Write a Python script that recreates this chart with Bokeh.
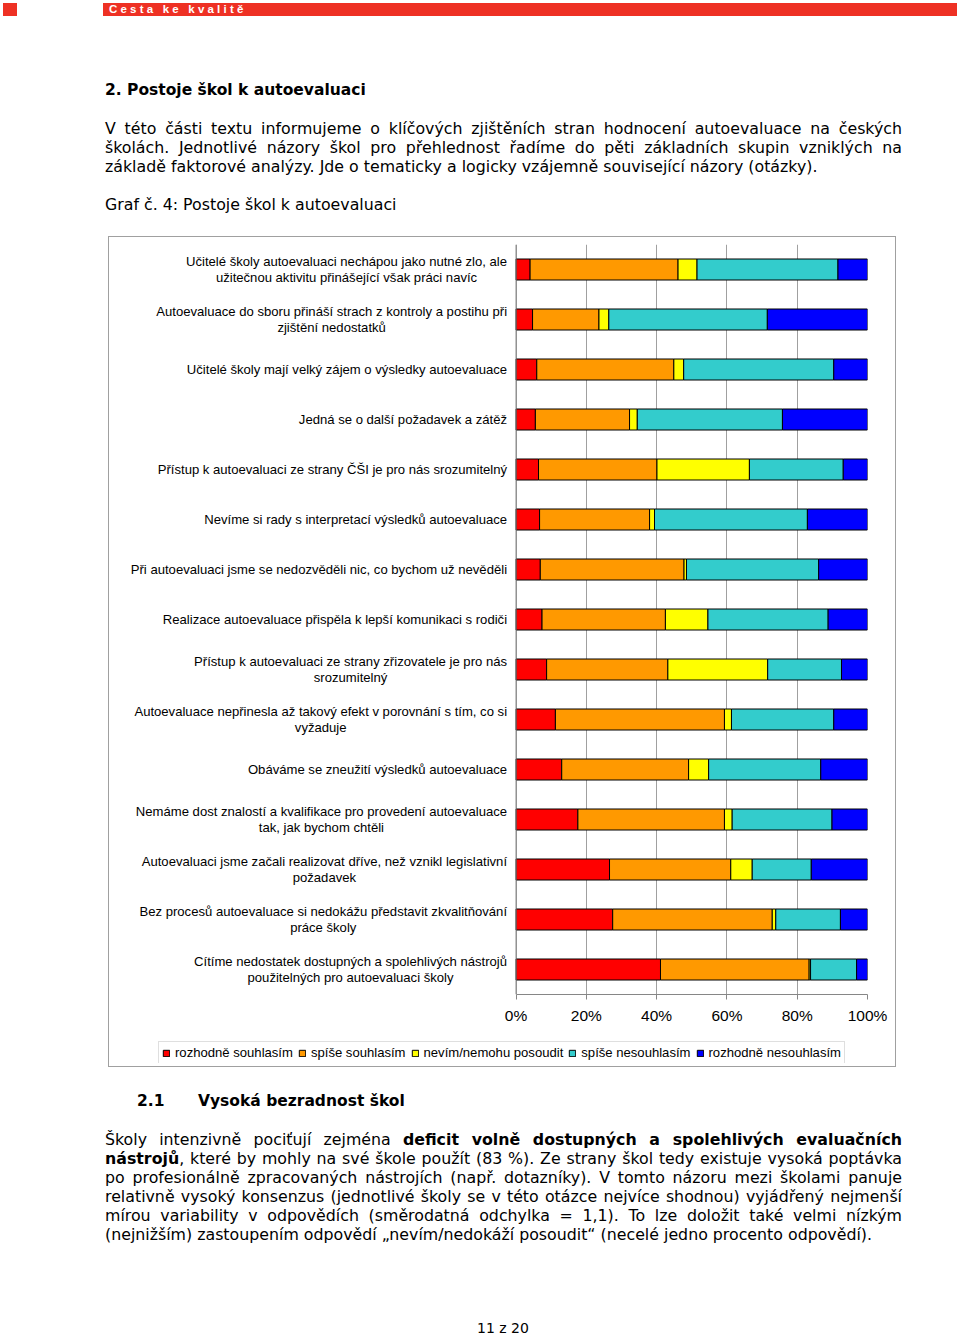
from bokeh.plotting import figure
from bokeh.models import (ColumnDataSource, FactorRange, Range1d, FixedTicker,
                          Legend, LegendItem, Div, Spacer, Span)
from bokeh.core.properties import value
from bokeh.layouts import column, row
from bokeh.embed import file_html
from bokeh.resources import INLINE

# ---------------- data ----------------
statements = [
    "Učitelé školy autoevaluaci nechápou jako nutné zlo, ale\nužitečnou aktivitu přinášející však práci navíc",
    "Autoevaluace do sboru přináší strach z kontroly a postihu při\nzjištění nedostatků",
    "Učitelé školy mají velký zájem o výsledky autoevaluace",
    "Jedná se o další požadavek a zátěž",
    "Přístup k autoevaluaci ze strany ČŠI je pro nás srozumitelný",
    "Nevíme si rady s interpretací výsledků autoevaluace",
    "Při autoevaluaci jsme se nedozvěděli nic, co bychom už nevěděli",
    "Realizace autoevaluace přispěla k lepší komunikaci s rodiči",
    "Přístup k autoevaluaci ze strany zřizovatele je pro nás\nsrozumitelný",
    "Autoevaluace nepřinesla až takový efekt v porovnání s tím, co si\nvyžaduje",
    "Obáváme se zneužití výsledků autoevaluace",
    "Nemáme dost znalostí a kvalifikace pro provedení autoevaluace\ntak, jak bychom chtěli",
    "Autoevaluaci jsme začali realizovat dříve, než vznikl legislativní\npožadavek",
    "Bez procesů autoevaluace si nedokážu představit zkvalitňování\npráce školy",
    "Cítíme nedostatek dostupných a spolehlivých nástrojů\npoužitelných pro autoevaluaci školy",
]

rozhodne_souhlasim   = [4.0, 4.7, 5.9, 5.5, 6.4, 6.7, 6.9, 7.4, 8.7, 11.2, 13.0, 17.6, 26.6, 27.5, 41.1]
spise_souhlasim      = [42.1, 18.9, 39.0, 26.8, 33.7, 31.3, 40.9, 35.1, 34.5, 48.1, 36.1, 41.7, 34.5, 45.4, 42.3]
nevim                = [5.4, 2.8, 2.8, 2.2, 26.3, 1.4, 0.7, 12.1, 28.4, 2.0, 5.7, 2.2, 6.1, 1.0, 0.4]
spise_nesouhlasim    = [40.1, 45.1, 42.7, 41.3, 26.7, 43.5, 37.6, 34.2, 21.0, 29.1, 31.9, 28.4, 16.8, 18.4, 13.1]
rozhodne_nesouhlasim = [8.4, 28.5, 9.6, 24.2, 6.9, 17.1, 13.9, 11.2, 7.4, 9.6, 13.3, 10.1, 16.0, 7.7, 3.1]

series_names = ["rozhodně souhlasím", "spíše souhlasím", "nevím/nemohu posoudit",
                "spíše nesouhlasím", "rozhodně nesouhlasím"]
series_keys = ["rs", "ss", "nv", "sn", "rn"]
colors = ["#FF0000", "#FF9900", "#FFFF00", "#33CCCC", "#0000FF"]

tick_values = [0, 20, 40, 60, 80, 100]
tick_labels = ["0%", "20%", "40%", "60%", "80%", "100%"]

# ---------------- chart ----------------
source = ColumnDataSource(dict(
    statement=statements,
    rs=rozhodne_souhlasim, ss=spise_souhlasim, nv=nevim,
    sn=spise_nesouhlasim, rn=rozhodne_nesouhlasim,
))

LABEL_PX = 406.0   # room left of the 0 % line for the category texts
PLOT_PX = 351.0    # width of 0..100 %

p = figure(width=786, height=803,
           y_range=FactorRange(factors=list(reversed(statements))),
           x_range=Range1d(-100.0 * LABEL_PX / PLOT_PX, 100),
           output_backend="svg", toolbar_location=None,
           min_border_left=0, min_border_right=28,
           min_border_top=7, min_border_bottom=46,
           y_axis_location=None)
p.outline_line_color = None
p.background_fill_color = "white"
p.border_fill_color = "white"

renderers = p.hbar_stack(series_keys, y="statement", height=0.42, color=colors,
                         line_color="black", line_width=1, source=source)

# category texts, right-aligned block, lines centred inside the block
p.text(x=0, y="statement", text="statement", source=source,
       anchor="center_right", text_align="center", x_offset=-9,
       text_font=value("Liberation Sans"), text_font_size="13.1px",
       text_color="black", text_line_height=1.12)

p.add_layout(Span(location=0, dimension="height", line_color="#868686", line_width=1))

p.xaxis.bounds = (0, 100)
p.xaxis.ticker = FixedTicker(ticks=tick_values)
p.xaxis.major_label_overrides = {v: l for v, l in zip(tick_values, tick_labels)}
p.xaxis.major_label_text_font = "Liberation Sans"
p.xaxis.major_label_text_font_size = "15.5px"
p.xaxis.major_label_text_color = "black"
p.xaxis.axis_line_color = "#868686"
p.xaxis.major_tick_line_color = "#868686"
p.xaxis.major_tick_out = 5
p.xaxis.major_tick_in = 0
p.xaxis.minor_tick_line_color = None
p.xaxis.major_label_standoff = 7

p.xgrid.ticker = FixedTicker(ticks=tick_values)
p.xgrid.grid_line_color = "#a0a0a0"
p.ygrid.grid_line_color = None

# legend: own small canvas inside the chart box; swatches come from the same
# stacked bars (hidden renderers, only their legend glyphs are drawn)
lf = figure(width=730, height=23, x_range=Range1d(0, 100),
            y_range=FactorRange(factors=list(reversed(statements))),
            output_backend="svg", toolbar_location=None, min_border=0,
            x_axis_location=None, y_axis_location=None)
lf.outline_line_color = None
lf.xgrid.grid_line_color = None
lf.ygrid.grid_line_color = None
swatches = lf.hbar_stack(series_keys, y="statement", height=0.42, color=colors,
                         line_color="black", line_width=1, source=source)
for r in swatches:
    r.visible = False
legend = Legend(
    items=[LegendItem(label=n, renderers=[r]) for n, r in zip(series_names, swatches)],
    location="top_left", orientation="horizontal", click_policy="none",
    label_text_font="Liberation Sans", label_text_font_size="13.1px",
    label_text_color="black",
    glyph_width=8, glyph_height=8, label_standoff=5, spacing=5,
    padding=3, margin=1, label_height=13,
    border_line_color="#c0c0c0", background_fill_color="white", background_fill_alpha=1,
    inactive_fill_alpha=0,
)
lf.add_layout(legend)

chart_box = column(p, row(Spacer(width=48, height=23), lf), Spacer(width=786, height=3),
                   spacing=0, styles={"border": "1px solid #a0a0a0"})

# ---------------- document text ----------------
FONT = "'DejaVu Sans', Verdana, sans-serif"
FS = "15.8px"

def jline(top, html, last=False):
    align_last = "left" if last else "justify"
    return (f'<div style="position:absolute;left:105px;top:{top}px;width:797px;'
            f'font-size:{FS};line-height:19px;white-space:nowrap;text-align:justify;'
            f'text-align-last:{align_last};">{html}</div>')

top_lines = [
    "V této části textu informujeme o klíčových zjištěních stran hodnocení autoevaluace na českých",
    "školách. Jednotlivé názory škol pro přehlednost řadíme do pěti základních skupin vzniklých na",
    "základě faktorové analýzy. Jde o tematicky a logicky vzájemně související názory (otázky).",
]
top_html = (
    f'<div style="position:relative;width:960px;height:236px;font-family:{FONT};color:#000;">'
    '<div style="position:absolute;left:3px;top:3px;width:14px;height:13px;background:#ee3124;"></div>'
    '<div style="position:absolute;left:103px;top:3px;width:854px;height:13px;background:#ee3124;'
    'color:#fff;font-family:\'Liberation Sans\';font-weight:bold;font-size:11.5px;line-height:13px;'
    'letter-spacing:3.2px;padding-left:6px;box-sizing:border-box;white-space:nowrap;">Cesta ke kvalitě</div>'
    '<div style="position:absolute;left:105px;top:80px;font-weight:bold;font-size:15.5px;'
    'line-height:20px;white-space:nowrap;">2. Postoje škol k autoevaluaci</div>'
    + jline(118.5, top_lines[0]) + jline(137.5, top_lines[1]) + jline(156.5, top_lines[2], last=True)
    + f'<div style="position:absolute;left:105px;top:194.5px;font-size:{FS};line-height:19px;'
    'white-space:nowrap;">Graf č. 4: Postoje škol k autoevaluaci</div>'
    '</div>'
)

bottom_lines = [
    "Školy intenzivně pociťují zejména <b>deficit volně dostupných a spolehlivých evaluačních</b>",
    "<b>nástrojů</b>, které by mohly na své škole použít (83 %). Ze strany škol tedy existuje vysoká poptávka",
    "po profesionálně zpracovaných nástrojích (např. dotazníky). V tomto názoru mezi školami panuje",
    "relativně vysoký konsenzus (jednotlivé školy se v této otázce nejvíce shodnou) vyjádřený nejmenší",
    "mírou variability v odpovědích (směrodatná odchylka = 1,1). To lze doložit také velmi nízkým",
    "(nejnižším) zastoupením odpovědí „nevím/nedokáží posoudit“ (necelé jedno procento odpovědí).",
]
bottom_html = (
    f'<div style="position:relative;width:960px;height:268px;font-family:{FONT};color:#000;">'
    '<div style="position:absolute;left:137px;top:24px;font-weight:bold;font-size:15.5px;'
    'line-height:20px;white-space:nowrap;">2.1</div>'
    '<div style="position:absolute;left:198px;top:24px;font-weight:bold;font-size:15.5px;'
    'line-height:20px;white-space:nowrap;">Vysoká bezradnost škol</div>'
    + "".join(jline(62.5 + 19 * i, t, last=(i == len(bottom_lines) - 1)) for i, t in enumerate(bottom_lines))
    + '<div style="position:absolute;left:453px;top:256px;width:100px;text-align:center;'
    'font-size:14px;line-height:10px;white-space:nowrap;">11 z 20</div>'
    '</div>'
)

top_div = Div(text=top_html, width=960, height=236, margin=0)
bottom_div = Div(text=bottom_html, width=960, height=268, margin=0)
chart_row = row(Spacer(width=108, height=831, margin=0), chart_box, spacing=0)
page = column(top_div, chart_row, bottom_div, spacing=0)

open("out.html", "w").write(file_html(page, INLINE))
